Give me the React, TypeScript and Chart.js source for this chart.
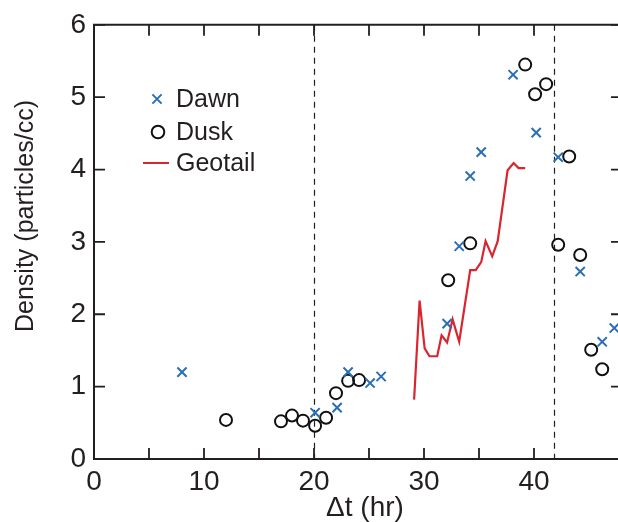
import React, { useEffect, useRef } from "react";
import { Chart, registerables } from "chart.js";

Chart.register(...registerables);

// ---- data ----
const dawnX = [8, 20.1, 22.1, 23.1, 25.1, 26.1, 32.1, 33.2, 34.2, 35.2, 38.1, 40.2, 42.2, 44.2, 46.2, 47.3];
const dawnY = [1.2, 0.64, 0.71, 1.2, 1.05, 1.14, 1.87, 2.94, 3.91, 4.24, 5.31, 4.51, 4.17, 2.59, 1.62, 1.81];

const duskX = [12, 17, 18, 19, 20.1, 21.1, 22, 23.1, 24.1, 32.2, 34.2, 39.2, 40.1, 41.1, 42.2, 43.2, 44.2, 45.2, 46.2];
const duskY = [0.54, 0.52, 0.6, 0.53, 0.46, 0.57, 0.91, 1.08, 1.09, 2.47, 2.98, 5.45, 5.04, 5.18, 2.96, 4.18, 2.82, 1.51, 1.24];

const geoX = [29.1, 29.6, 30.06, 30.5, 31.2, 31.6, 32.1, 32.6, 33.2, 34.2, 34.7, 35.2, 35.6, 36.2, 36.7, 37.6, 38.15, 38.6, 39.2];
const geoY = [0.82, 2.19, 1.53, 1.42, 1.42, 1.71, 1.61, 1.93, 1.62, 2.61, 2.61, 2.72, 3.01, 2.8, 3.01, 3.99, 4.09, 4.02, 4.02];

const dashedLinesX = [20, 41.8];
const xTickLabels = [0, 10, 20, 30, 40];
const seriesNames = ["Dawn", "Dusk", "Geotail"];
const xTitle = "\u0394t (hr)";
const yTitle = "Density (particles/cc)";

const BLUE = "#2a6fb3";
const RED = "#d9252f";
const INK = "#231f20";
const FONT = "'Liberation Sans', Arial, Helvetica, sans-serif";

const toPts = (xs: number[], ys: number[]) => xs.map((x, i) => ({ x, y: ys[i] }));

const framePlugin = {
  id: "frame",
  beforeDatasetsDraw(chart: any) {
    const { ctx, chartArea: a, scales } = chart;
    const xs = scales.x;
    const ys = scales.y;
    ctx.save();
    // dashed reference lines
    ctx.strokeStyle = INK;
    ctx.lineWidth = 1.2;
    ctx.setLineDash([6, 5]);
    dashedLinesX.forEach((v) => {
      const px = Math.round(xs.getPixelForValue(v)) + 0.5;
      ctx.beginPath();
      ctx.moveTo(px, a.top);
      ctx.lineTo(px, a.bottom);
      ctx.stroke();
    });
    ctx.setLineDash([]);
    // frame
    ctx.lineWidth = 2;
    ctx.strokeStyle = INK;
    ctx.beginPath();
    ctx.moveTo(a.left, a.top);
    ctx.lineTo(a.right, a.top);
    ctx.lineTo(a.right, a.bottom);
    ctx.lineTo(a.left, a.bottom);
    ctx.closePath();
    ctx.stroke();
    // inward ticks
    const tl = 11;
    ctx.lineWidth = 1.8;
    xs.ticks.forEach((t: any) => {
      if (Math.abs(t.value % 5) > 1e-6) return;
      const px = xs.getPixelForValue(t.value);
      ctx.beginPath();
      ctx.moveTo(px, a.bottom);
      ctx.lineTo(px, a.bottom - tl);
      ctx.moveTo(px, a.top);
      ctx.lineTo(px, a.top + tl);
      ctx.stroke();
    });
    ys.ticks.forEach((t: any) => {
      const py = ys.getPixelForValue(t.value);
      ctx.beginPath();
      ctx.moveTo(a.left, py);
      ctx.lineTo(a.left + tl, py);
      ctx.moveTo(a.right, py);
      ctx.lineTo(a.right - tl, py);
      ctx.stroke();
    });
    ctx.restore();
  },
  afterDraw(chart: any) {
    const { ctx } = chart;
    // x title
    ctx.save();
    ctx.fillStyle = INK;
    ctx.font = `28px ${FONT}`;
    ctx.textAlign = "center";
    ctx.textBaseline = "alphabetic";
    ctx.fillText(xTitle, 365, 516);
    ctx.restore();

    // y title
    ctx.save();
    ctx.fillStyle = INK;
    ctx.font = `25px ${FONT}`;
    ctx.translate(33, 216);
    ctx.rotate(-Math.PI / 2);
    ctx.textAlign = "center";
    ctx.textBaseline = "alphabetic";
    ctx.fillText(yTitle, 0, 0);
    ctx.restore();

    // legend
    ctx.save();
    const ds = chart.data.datasets;
    const rows = [107, 140, 171];
    const mx = 157;
    ds.forEach((d: any, i: number) => {
      const base = rows[i];
      const cy = base - 8;
      ctx.strokeStyle = d.borderColor;
      ctx.lineWidth = 2;
      if (d.showLine) {
        ctx.beginPath();
        ctx.moveTo(143, cy);
        ctx.lineTo(169, cy);
        ctx.stroke();
      } else if (d.pointStyle === "crossRot") {
        const r = 4.6;
        ctx.beginPath();
        ctx.moveTo(mx - r, cy - r);
        ctx.lineTo(mx + r, cy + r);
        ctx.moveTo(mx - r, cy + r);
        ctx.lineTo(mx + r, cy - r);
        ctx.stroke();
      } else {
        ctx.beginPath();
        ctx.arc(mx + 1, cy, 6.3, 0, Math.PI * 2);
        ctx.stroke();
      }
      ctx.fillStyle = INK;
      ctx.font = `25px ${FONT}`;
      ctx.textAlign = "left";
      ctx.textBaseline = "alphabetic";
      ctx.fillText(d.label, 176, base);
    });
    ctx.restore();
  },
};

export default function App() {
  const ref = useRef<HTMLCanvasElement | null>(null);
  useEffect(() => {
    if (!ref.current) return;
    const chart = new Chart(ref.current, {
      type: "scatter",
      data: {
        datasets: [
          {
            label: seriesNames[0],
            data: toPts(dawnX, dawnY),
            pointStyle: "crossRot",
            pointRadius: 6.5,
            borderWidth: 2,
            borderColor: BLUE,
            backgroundColor: BLUE,
            showLine: false,
          },
          {
            label: seriesNames[1],
            data: toPts(duskX, duskY),
            pointStyle: "circle",
            pointRadius: 6,
            borderWidth: 2,
            borderColor: "#111111",
            backgroundColor: "rgba(0,0,0,0)",
            showLine: false,
          },
          {
            label: seriesNames[2],
            data: toPts(geoX, geoY),
            showLine: true,
            pointRadius: 0,
            borderWidth: 2.2,
            borderColor: RED,
            backgroundColor: RED,
            tension: 0,
          } as any,
        ],
      },
      options: {
        responsive: false,
        animation: false,
        devicePixelRatio: 1,
        events: [],
        layout: { padding: { top: 22, right: 18, left: 0, bottom: 0 } },
        plugins: { legend: { display: false }, tooltip: { enabled: false } },
        scales: {
          x: {
            type: "linear",
            min: 0,
            max: 48,
            grid: { display: false, drawTicks: false },
            border: { display: false },
            ticks: {
              stepSize: 5,
              autoSkip: false,
              maxRotation: 0,
              padding: 6,
              color: INK,
              font: { family: FONT, size: 28 },
              callback: (v: any) => (xTickLabels.includes(Number(v)) ? String(v) : ""),
            },
            title: { display: false },
            afterFit: (s: any) => {
              s.height = 63;
            },
          },
          y: {
            type: "linear",
            min: 0,
            max: 6,
            grid: { display: false, drawTicks: false },
            border: { display: false },
            ticks: {
              stepSize: 1,
              padding: 8,
              color: INK,
              font: { family: FONT, size: 28 },
            },
            afterFit: (s: any) => {
              s.width = 94;
            },
          },
        },
      },
      plugins: [framePlugin],
    });
    return () => chart.destroy();
  }, []);
  return (
    <div
      style={{
        position: "fixed",
        left: 0,
        top: 0,
        width: 618,
        height: 522,
        overflow: "hidden",
        background: "#fff",
      }}
    >
      <canvas ref={ref} width={640} height={522} style={{ width: 640, height: 522, display: "block" }} />
    </div>
  );
}
